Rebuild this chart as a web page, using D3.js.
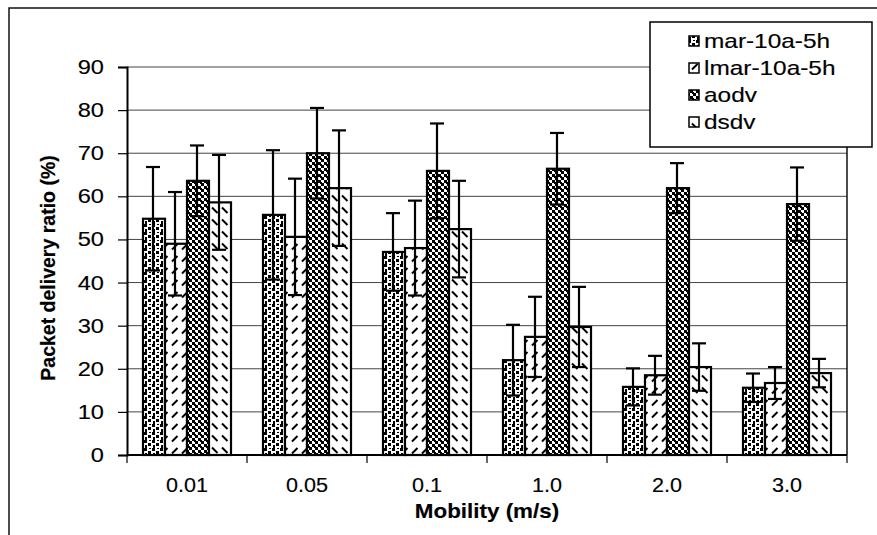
<!DOCTYPE html>
<html>
<head>
<meta charset="utf-8">
<script src="https://cdn.jsdelivr.net/npm/d3@7/dist/d3.min.js"></script>
<style>
  html, body { margin: 0; padding: 0; background: #fff; }
  svg { display: block; font-family: "Liberation Sans", Arial, sans-serif; }
</style>
</head>
<body>
<svg id="chart" width="877" height="535"></svg>
<script>
// Mobility levels on the x axis
const categories = ["0.01", "0.05", "0.1", "1.0", "2.0", "3.0"];
const seriesNames = ["mar-10a-5h", "lmar-10a-5h", "aodv", "dsdv"];

// Packet delivery ratio (%) per protocol, with error-bar half-widths
const mar      = [54.8, 55.7, 47.1, 22.0, 15.8, 15.6];
const marErr   = [12.0, 15.0, 9.0, 8.2, 4.3, 3.3];
const lmar     = [49.0, 50.6, 48.0, 27.4, 18.5, 16.7];
const lmarErr  = [12.0, 13.5, 11.0, 9.3, 4.5, 3.7];
const aodv     = [63.6, 70.0, 65.9, 66.4, 61.9, 58.2];
const aodvErr  = [8.2, 10.5, 11.0, 8.3, 5.8, 8.5];
const dsdv     = [58.6, 61.9, 52.4, 29.7, 20.4, 19.0];
const dsdvErr  = [11.0, 13.4, 11.2, 9.3, 5.5, 3.3];

const yTicks = [0, 10, 20, 30, 40, 50, 60, 70, 80, 90];

const values = [mar, lmar, aodv, dsdv];
const errors = [marErr, lmarErr, aodvErr, dsdvErr];

const svg = d3.select("#chart");
const plotLeft = 127, plotRight = 847;

// Horizontally widened text, as in the printed figure
function wideText(parent, x, y, str, opts) {
  const o = Object.assign({ size: 20, sx: 1.15, anchor: "start", weight: "normal" }, opts || {});
  const g = parent.append("g").attr("transform", `translate(${x},${y}) scale(${o.sx},1)`);
  g.append("text")
    .attr("x", 0).attr("y", 0).attr("dy", "0.35em")
    .attr("text-anchor", o.anchor)
    .attr("font-size", o.size).attr("font-weight", o.weight)
    .attr("fill", "#000").attr("stroke", "#000").attr("stroke-width", 0.15)
    .text(str);
  return g;
}

// Outer chart frame (runs off the right and bottom edges)
svg.append("rect")
  .attr("x", 9).attr("y", 8)
  .attr("width", 900).attr("height", 600)
  .attr("fill", "none").attr("stroke", "#111").attr("stroke-width", 1.5);

// Fill patterns
const defs = svg.append("defs");

// mar: scattered black squares
const pMar = defs.append("pattern").attr("id", "pat-mar")
  .attr("patternUnits", "userSpaceOnUse").attr("width", 8).attr("height", 8);
pMar.append("rect").attr("width", 8).attr("height", 8).attr("fill", "#fff");
pMar.append("rect").attr("x", 0).attr("y", 0).attr("width", 3).attr("height", 3).attr("fill", "#000");
pMar.append("rect").attr("x", 4).attr("y", 3).attr("width", 3).attr("height", 3).attr("fill", "#000");
pMar.append("rect").attr("x", 1).attr("y", 5).attr("width", 2).attr("height", 3).attr("fill", "#000");
pMar.append("rect").attr("x", 5).attr("y", 0).attr("width", 2).attr("height", 1).attr("fill", "#000");

// lmar: short forward-slash dashes
const pLmar = defs.append("pattern").attr("id", "pat-lmar")
  .attr("patternUnits", "userSpaceOnUse").attr("width", 10).attr("height", 12);
pLmar.append("rect").attr("width", 10).attr("height", 12).attr("fill", "#fff");
pLmar.append("line").attr("x1", 2).attr("y1", 9.5).attr("x2", 7.5).attr("y2", 4)
  .attr("stroke", "#000").attr("stroke-width", 2);

// aodv: fine checkerboard
const pAodv = defs.append("pattern").attr("id", "pat-aodv")
  .attr("patternUnits", "userSpaceOnUse").attr("width", 6).attr("height", 6);
pAodv.append("rect").attr("width", 6).attr("height", 6).attr("fill", "#fff");
pAodv.append("rect").attr("x", 0).attr("y", 0).attr("width", 3).attr("height", 3).attr("fill", "#000");
pAodv.append("rect").attr("x", 3).attr("y", 3).attr("width", 3).attr("height", 3).attr("fill", "#000");
pAodv.append("rect").attr("x", 2).attr("y", 2).attr("width", 2).attr("height", 2).attr("fill", "#000");

// dsdv: short back-slash dashes
const pDsdv = defs.append("pattern").attr("id", "pat-dsdv")
  .attr("patternUnits", "userSpaceOnUse").attr("width", 10).attr("height", 12);
pDsdv.append("rect").attr("width", 10).attr("height", 12).attr("fill", "#fff");
pDsdv.append("line").attr("x1", 2).attr("y1", 3.5).attr("x2", 7.5).attr("y2", 9)
  .attr("stroke", "#000").attr("stroke-width", 2);

const fills = ["url(#pat-mar)", "url(#pat-lmar)", "url(#pat-aodv)", "url(#pat-dsdv)"];

// Scales
const x0 = d3.scaleBand().domain(categories)
  .range([plotLeft, plotRight]).paddingInner(0).paddingOuter(0);
const x1 = d3.scaleBand().domain(seriesNames)
  .range([0, x0.bandwidth()]).paddingInner(0).paddingOuter(0.727);
const y = d3.scaleLinear().domain([0, 90]).range([455, 67]);

// Horizontal gridlines
svg.append("g").selectAll("line").data(yTicks.filter(d => d > 0)).join("line")
  .attr("x1", plotLeft).attr("x2", plotRight)
  .attr("y1", d => y(d)).attr("y2", d => y(d))
  .attr("stroke", "#444").attr("stroke-width", 1);

// Plot area right border
svg.append("line")
  .attr("x1", plotRight).attr("x2", plotRight).attr("y1", y(90)).attr("y2", y(0))
  .attr("stroke", "#111").attr("stroke-width", 1.5);

// Bars and error bars
const rows = [];
categories.forEach((c, i) => {
  seriesNames.forEach((s, k) => {
    rows.push({ cat: c, series: s, k, v: values[k][i], e: errors[k][i] });
  });
});

svg.append("g").selectAll("rect").data(rows).join("rect")
  .attr("x", d => x0(d.cat) + x1(d.series))
  .attr("y", d => y(d.v))
  .attr("width", x1.bandwidth())
  .attr("height", d => y(0) - y(d.v))
  .attr("fill", d => fills[d.k])
  .attr("stroke", "#000").attr("stroke-width", 2.2);

const errG = svg.append("g").attr("stroke", "#000").attr("stroke-width", 2.2);
rows.forEach(d => {
  const cx = x0(d.cat) + x1(d.series) + x1.bandwidth() / 2 - 1;
  const top = y(d.v + d.e), bot = y(Math.max(0, d.v - d.e));
  errG.append("line").attr("x1", cx).attr("x2", cx).attr("y1", top).attr("y2", bot);
  errG.append("line").attr("x1", cx - 7).attr("x2", cx + 7).attr("y1", top).attr("y2", top);
  errG.append("line").attr("x1", cx - 7).attr("x2", cx + 7).attr("y1", bot).attr("y2", bot);
});

// Y axis: line and ticks from d3, labels drawn widened
const yAxis = svg.append("g").attr("transform", `translate(${plotLeft},0)`)
  .call(d3.axisLeft(y).tickValues(yTicks).tickSize(9).tickFormat(""));
yAxis.select(".domain").attr("stroke", "#000").attr("stroke-width", 2);
yAxis.selectAll(".tick line").attr("stroke", "#000").attr("stroke-width", 1.2);
yTicks.forEach(t => wideText(svg, 104, y(t), String(t), { anchor: "end", sx: 1.18 }));

// X axis: ticks sit on category boundaries
const xAxis = svg.append("g").attr("transform", `translate(0,${y(0)})`);
xAxis.append("line").attr("x1", plotLeft).attr("x2", plotRight)
  .attr("y1", 0).attr("y2", 0).attr("stroke", "#000").attr("stroke-width", 2);
const bounds = categories.map(c => x0(c)).concat([x0(categories[categories.length - 1]) + x0.bandwidth()]);
xAxis.selectAll("line.tk").data(bounds).join("line").attr("class", "tk")
  .attr("x1", d => d).attr("x2", d => d).attr("y1", 0).attr("y2", 8)
  .attr("stroke", "#000").attr("stroke-width", 1.2);
categories.forEach(c => wideText(svg, x0(c) + x0.bandwidth() / 2, y(0) + 30, c,
  { anchor: "middle", sx: 1.08 }));

// Axis titles
wideText(svg, 487, 511, "Mobility (m/s)", { anchor: "middle", weight: "bold", size: 20, sx: 1.12 });

svg.append("text")
  .attr("transform", "translate(48,268) rotate(-90)")
  .attr("text-anchor", "middle").attr("dy", "0.35em")
  .attr("font-size", 19.5).attr("font-weight", "bold")
  .attr("stroke", "#000").attr("stroke-width", 0.2)
  .text("Packet delivery ratio (%)");

// Legend
const lg = svg.append("g");
lg.append("rect").attr("x", 650).attr("y", 22).attr("width", 222).attr("height", 125)
  .attr("fill", "#fff").attr("stroke", "#000").attr("stroke-width", 1.5);
const legendY = [41, 68, 95, 122];
seriesNames.forEach((s, k) => {
  lg.append("rect").attr("x", 689).attr("y", legendY[k] - 5)
    .attr("width", 10).attr("height", 10)
    .attr("fill", fills[k]).attr("stroke", "#000").attr("stroke-width", 1.5);
  wideText(lg, 704, legendY[k], s, { size: 20, sx: 1.22 });
});
</script>
</body>
</html>
